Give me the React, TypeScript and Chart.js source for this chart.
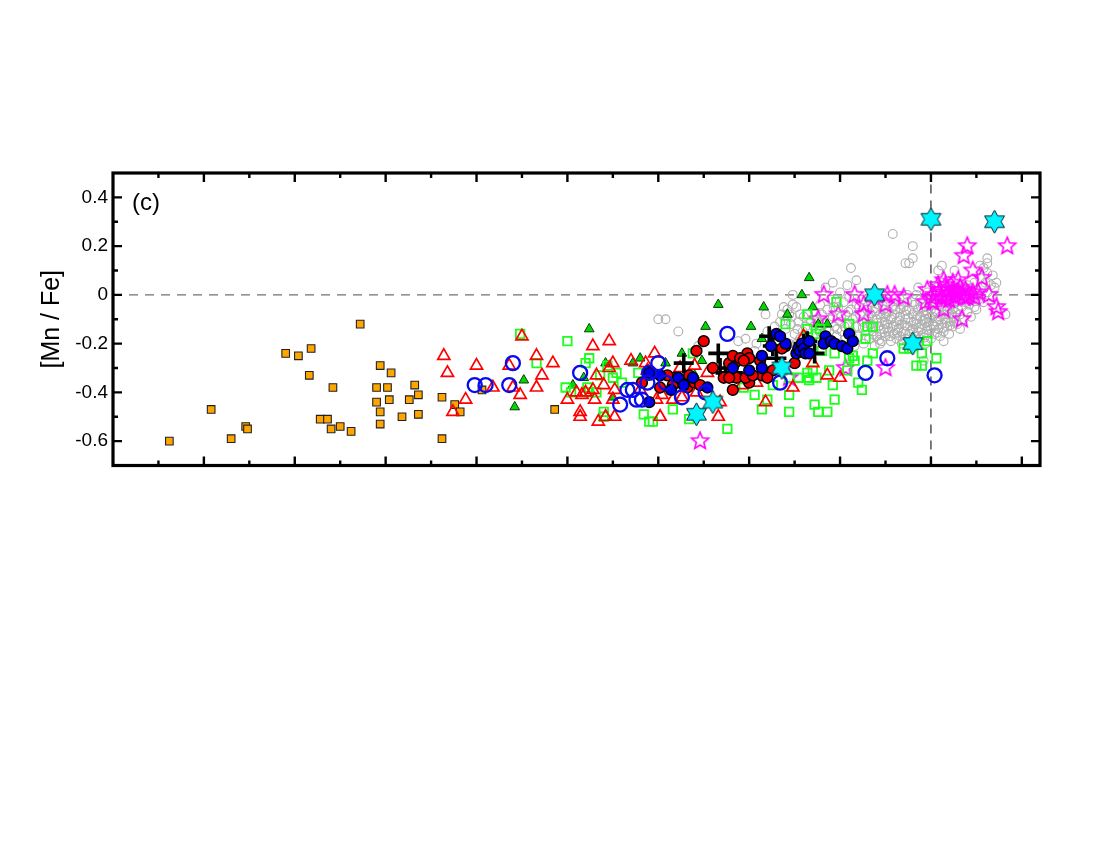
import React, { useEffect, useRef } from "react";
import { Chart, registerables } from "chart.js";

Chart.register(...registerables);

type P = [number, number];

const xMajorTicks = [-4, -3.5, -3, -2.5, -2, -1.5, -1, -0.5, 0, 0.5];
const xMinorTicks = [-4.25, -3.75, -3.25, -2.75, -2.25, -1.75, -1.25, -0.75, -0.25, 0.25];
const yMajorTicks = [-0.6, -0.4, -0.2, 0, 0.2, 0.4];
const yMinorTicks = [-0.5, -0.3, -0.1, 0.1, 0.3];
const yTickLabels: Record<string, string> = { "-0.6": "-0.6", "-0.4": "-0.4", "-0.2": "-0.2", "0": "0", "0.2": "0.2", "0.4": "0.4" };
const yTitle = "[Mn / Fe]";
const panelLabel = "(c)";

const haloStars: P[] = [
  [-4.19, -0.6], [-3.96, -0.47], [-3.85, -0.59], [-3.77, -0.54], [-3.76, -0.55], [-3.55, -0.24], [-3.48, -0.25],
  [-3.41, -0.22], [-3.42, -0.33], [-3.29, -0.38], [-3.36, -0.51], [-3.32, -0.51], [-3.3, -0.55], [-3.25, -0.54],
  [-3.19, -0.56], [-3.14, -0.12], [-3.05, -0.38], [-3.05, -0.44], [-3.03, -0.29], [-2.97, -0.32], [-2.99, -0.38],
  [-2.98, -0.43], [-3.03, -0.48], [-3.03, -0.53], [-2.91, -0.5], [-2.87, -0.43], [-2.84, -0.37], [-2.82, -0.41],
  [-2.82, -0.49], [-2.69, -0.42], [-2.69, -0.59], [-2.62, -0.45], [-2.59, -0.48], [-2.47, -0.39], [-2.07, -0.47],
];

const redTriangles: P[] = [
  [-2.68, -0.25], [-2.66, -0.32], [-2.63, -0.48], [-2.56, -0.43], [-2.5, -0.29], [-2.41, -0.38], [-2.32, -0.29],
  [-2.3, -0.38], [-2.26, -0.41], [-2.25, -0.17], [-2.17, -0.25], [-2.14, -0.33], [-2.17, -0.38], [-2.08, -0.28],
  [-2.0, -0.43], [-1.95, -0.4], [-1.92, -0.41], [-1.9, -0.4], [-1.86, -0.39], [-1.85, -0.43], [-1.86, -0.21],
  [-1.77, -0.19], [-1.77, -0.3], [-1.75, -0.28], [-1.84, -0.33], [-1.8, -0.37], [-1.74, -0.39], [-1.75, -0.43],
  [-1.93, -0.48], [-1.93, -0.5], [-1.83, -0.52], [-1.79, -0.5], [-1.74, -0.5], [-1.52, -0.24], [-1.57, -0.28],
  [-1.48, -0.41], [-1.49, -0.5], [-1.56, -0.31], [-1.51, -0.43], [-1.42, -0.43], [-1.37, -0.42], [-1.3, -0.29],
  [-1.23, -0.32], [-1.38, -0.3], [-1.29, -0.4], [-1.17, -0.5], [-1.16, -0.44], [-0.91, -0.44], [-0.76, -0.38],
  [-0.96, -0.36], [-1.04, -0.37], [-0.65, -0.28], [-0.57, -0.33], [-0.5, -0.34], [-0.7, -0.17], [-1.65, -0.27],
  [-1.6, -0.39],
];

const blueOpenCircles: P[] = [
  [-2.51, -0.37], [-2.45, -0.37], [-2.3, -0.28], [-2.32, -0.37], [-1.93, -0.32], [-1.71, -0.45], [-1.67, -0.39],
  [-1.64, -0.39], [-1.62, -0.43], [-1.59, -0.43], [-1.56, -0.36], [-1.55, -0.32], [-1.5, -0.28], [-1.46, -0.36],
  [-1.37, -0.42], [-1.24, -0.4], [-1.12, -0.16], [-0.83, -0.36], [-0.36, -0.32], [-0.24, -0.26], [0.02, -0.33],
];

const blueFilledCircles: P[] = [
  [-1.55, -0.44], [-1.49, -0.33], [-1.43, -0.39], [-1.39, -0.34], [-1.31, -0.34], [-1.36, -0.37], [-1.23, -0.38],
  [-1.55, -0.32], [-0.85, -0.16], [-0.88, -0.21], [-0.8, -0.2], [-0.93, -0.25], [-1.0, -0.31], [-0.93, -0.3],
  [-1.09, -0.3], [-0.83, -0.17], [-0.74, -0.24], [-0.73, -0.22], [-0.72, -0.23], [-0.71, -0.2], [-0.7, -0.22],
  [-0.69, -0.24], [-0.67, -0.19], [-0.67, -0.24], [-0.58, -0.17], [-0.59, -0.2], [-0.55, -0.19], [-0.53, -0.2],
  [-0.49, -0.21], [-0.46, -0.22], [-0.45, -0.16], [-0.43, -0.19],
];

const redFilledCircles: P[] = [
  [-1.25, -0.19], [-1.29, -0.23], [-1.2, -0.3], [-1.09, -0.39], [-1.14, -0.34], [-1.59, -0.36], [-1.49, -0.38],
  [-1.41, -0.34], [-1.34, -0.38], [-1.3, -0.36], [-1.45, -0.33], [-1.01, -0.24], [-1.0, -0.26], [-1.08, -0.28],
  [-1.11, -0.28], [-1.0, -0.36], [-1.07, -0.34], [-1.11, -0.34], [-1.02, -0.34], [-0.94, -0.27], [-0.87, -0.31],
  [-0.93, -0.33], [-0.9, -0.34], [-0.8, -0.21], [-0.82, -0.22], [-0.75, -0.28], [-1.09, -0.25], [-1.05, -0.26],
  [-1.03, -0.27], [-0.98, -0.33], [-1.38, -0.36], [-1.33, -0.33], [-1.42, -0.37], [-1.27, -0.37],
];

const blackPluses: P[] = [
  [-1.36, -0.28], [-1.17, -0.24], [-1.16, -0.3], [-1.13, -0.32], [-1.09, -0.32], [-0.89, -0.17], [-0.85, -0.26],
  [-0.68, -0.19], [-0.7, -0.2], [-0.64, -0.24], [-0.87, -0.21],
];

const greenTriangles: P[] = [
  [-1.88, -0.14], [-2.24, -0.35], [-2.29, -0.46], [-1.64, -0.28], [-1.6, -0.26], [-1.79, -0.28], [-1.91, -0.34],
  [-1.97, -0.37], [-1.75, -0.42], [-1.17, -0.04], [-0.92, -0.05], [-0.71, 0.0], [-0.67, 0.07], [-0.65, -0.05],
  [-0.79, -0.08], [-1.24, -0.13], [-0.99, -0.13], [-1.37, -0.24], [-1.26, -0.27], [-1.46, -0.28], [-0.93, -0.18],
  [-1.3, -0.33], [-0.62, -0.12], [-0.57, -0.12],
];

const greenSquares: P[] = [
  [-2.26, -0.16], [-2.0, -0.19], [-1.88, -0.26], [-1.9, -0.28], [-2.17, -0.28], [-2.01, -0.38], [-1.98, -0.4],
  [-1.89, -0.38], [-1.88, -0.4], [-1.84, -0.4], [-1.82, -0.33], [-1.75, -0.34], [-1.73, -0.32], [-1.7, -0.36],
  [-1.8, -0.48], [-1.8, -0.5], [-1.58, -0.49], [-1.55, -0.52], [-1.61, -0.32], [-1.78, -0.29], [-1.53, -0.52],
  [-1.42, -0.47], [-1.33, -0.51], [-1.12, -0.55], [-1.31, -0.24], [-0.97, -0.41], [-0.93, -0.47], [-0.9, -0.43],
  [-0.78, -0.48], [-0.78, -0.41], [-0.87, -0.37], [-0.73, -0.34], [-0.68, -0.34], [-0.63, -0.34], [-0.65, -0.31],
  [-0.68, -0.32], [-0.64, -0.45], [-0.62, -0.48], [-0.57, -0.48], [-0.53, -0.43], [-0.54, -0.37], [-0.56, -0.31],
  [-0.68, -0.08], [-0.8, -0.12], [-0.68, -0.14], [-0.61, -0.14], [-0.52, -0.03], [-0.53, -0.24], [-0.78, -0.34],
  [-1.03, -0.38], [-0.4, -0.36], [-0.38, -0.39], [-0.46, -0.31], [-0.45, -0.26], [-0.35, -0.27], [-0.32, -0.24],
  [-0.45, -0.12], [-0.35, -0.13], [-0.32, -0.13], [-0.36, -0.18], [-0.43, -0.25], [-0.42, -0.27], [-0.63, -0.16],
  [-0.6, -0.23], [-0.67, -0.35], [-0.02, -0.19], [-0.15, -0.22], [-0.12, -0.22], [-0.05, -0.24], [0.03, -0.26],
  [-0.08, -0.29], [-0.05, -0.29],
];

const magentaStars: P[] = [
  [-0.59, 0.0], [-0.42, 0.0], [-0.37, -0.04], [-0.51, -0.08], [-0.37, -0.08], [-0.62, -0.1], [-0.25, -0.04],
  [-0.24, 0.0], [-0.2, 0.0], [-0.15, -0.01], [0.2, 0.2], [0.18, 0.16], [0.42, 0.2], [0.23, 0.1], [0.28, 0.07],
  [0.32, 0.0], [0.36, -0.05], [0.37, -0.07], [0.17, -0.1], [0.07, -0.06], [0.07, 0.06], [0.15, 0.06],
  [-0.02, 0.02], [-0.03, -0.03], [0.01, -0.03], [-0.25, -0.3], [-1.27, -0.6], [-0.47, -0.3], [-0.78, -0.34],
  [0.02, 0.0], [0.05, 0.02], [0.08, 0.04], [0.09, 0.0], [0.12, 0.02], [0.13, -0.01], [0.15, 0.01], [0.17, 0.0],
  [0.19, 0.02], [0.21, 0.0], [0.23, 0.01], [0.06, -0.01], [0.1, -0.02], [0.04, 0.04], [0.08, -0.01], [0.16, 0.03],
  [0.12, 0.05], [0.2, -0.01], [0.26, 0.01], [0.0, -0.01], [0.09, 0.02], [0.14, 0.01], [0.18, -0.01], [0.11, 0.0],
  [0.24, -0.01],
];

const cyanStars: P[] = [
  [0.0, 0.31], [0.35, 0.3], [-0.31, 0.0], [-0.1, -0.2], [-0.82, -0.3], [-1.29, -0.49], [-1.2, -0.44],
];

const grayIsolated: P[] = [
  [-0.21, 0.25], [-0.1, 0.2], [-0.1, 0.15], [-0.14, 0.13], [-0.12, 0.13], [-0.44, 0.11], [-0.41, 0.06], [-0.54, 0.05],
  [-0.5, 0.01], [-0.46, 0.04], [-0.58, 0.03], [-0.76, 0.0], [-0.81, -0.05], [-0.76, -0.04], [-0.74, -0.05],
  [-0.79, -0.06], [-0.78, -0.08], [-0.72, -0.08], [0.06, 0.12], [0.04, 0.1], [0.13, 0.1], [0.27, 0.12], [0.31, 0.15],
  [0.31, 0.13], [0.29, 0.11], [0.34, 0.08], [0.31, 0.09], [0.36, 0.05], [0.35, 0.03], [0.41, -0.08], [0.25, -0.06],
  [0.16, -0.14], [0.07, -0.19], [-0.04, -0.27], [-0.28, -0.2], [-0.07, 0.03], [-1.5, -0.1], [-1.46, -0.1],
  [-1.39, -0.15], [-1.06, -0.19], [-1.02, -0.18], [-0.97, -0.23], [-0.91, -0.08], [-1.28, -0.21], [-1.3, -0.23],
];

const grayCloud: P[] = [
  [-0.83, -0.11], [-0.8, -0.14], [-0.77, -0.12], [-0.75, -0.16], [-0.73, -0.11], [-0.7, -0.09], [-0.69, -0.13],
  [-0.72, -0.18], [-0.66, -0.11], [-0.64, -0.07], [-0.63, -0.1], [-0.61, -0.04], [-0.6, -0.08], [-0.59, -0.12],
  [-0.57, -0.06], [-0.56, -0.15], [-0.55, -0.02], [-0.54, -0.09], [-0.53, -0.13], [-0.52, -0.17], [-0.51, -0.05],
  [-0.5, -0.11], [-0.49, -0.15], [-0.48, -0.03], [-0.47, -0.08], [-0.47, -0.18], [-0.46, -0.12], [-0.45, -0.01],
  [-0.44, -0.06], [-0.44, -0.15], [-0.43, -0.1], [-0.42, -0.21], [-0.41, -0.04], [-0.41, -0.13], [-0.4, -0.17],
  [-0.39, -0.08], [-0.38, -0.02], [-0.38, -0.11], [-0.37, -0.2], [-0.36, -0.15], [-0.35, -0.06], [-0.34, -0.09],
  [-0.34, -0.18], [-0.33, -0.03], [-0.33, -0.12], [-0.32, -0.15], [-0.31, -0.07], [-0.31, -0.21], [-0.3, -0.1],
  [-0.3, -0.17], [-0.29, -0.13], [-0.29, -0.04], [-0.28, -0.08], [-0.28, -0.16], [-0.27, -0.11], [-0.27, -0.19],
  [-0.26, -0.06], [-0.26, -0.14], [-0.25, -0.09], [-0.25, -0.17], [-0.24, -0.12], [-0.24, -0.03], [-0.23, -0.15],
  [-0.23, -0.07], [-0.22, -0.1], [-0.22, -0.19], [-0.21, -0.13], [-0.21, -0.05], [-0.2, -0.16], [-0.2, -0.08],
  [-0.19, -0.11], [-0.19, -0.18], [-0.18, -0.03], [-0.18, -0.14], [-0.17, -0.06], [-0.17, -0.09], [-0.17, -0.17],
  [-0.16, -0.12], [-0.16, -0.2], [-0.15, -0.05], [-0.15, -0.15], [-0.14, -0.08], [-0.14, -0.1], [-0.14, -0.18],
  [-0.13, -0.13], [-0.13, -0.03], [-0.12, -0.06], [-0.12, -0.16], [-0.11, -0.11], [-0.11, -0.19], [-0.1, -0.08],
  [-0.1, -0.14], [-0.09, -0.04], [-0.09, -0.17], [-0.08, -0.1], [-0.08, -0.12], [-0.08, -0.21], [-0.07, -0.06],
  [-0.07, -0.15], [-0.06, -0.09], [-0.06, -0.18], [-0.06, -0.02], [-0.05, -0.12], [-0.05, -0.14], [-0.04, -0.07],
  [-0.04, -0.16], [-0.03, -0.1], [-0.03, -0.2], [-0.03, -0.05], [-0.02, -0.13], [-0.02, -0.08], [-0.01, -0.16],
  [-0.01, -0.11], [-0.01, -0.02], [0.0, -0.06], [0.0, -0.14], [0.0, -0.18], [0.01, -0.09], [0.01, -0.12],
  [0.02, -0.04], [0.02, -0.16], [0.03, -0.07], [0.03, -0.11], [0.04, -0.14], [0.04, -0.02], [0.05, -0.09],
  [0.05, -0.17], [0.06, -0.05], [0.06, -0.12], [0.07, -0.08], [0.07, -0.15], [0.08, -0.03], [0.08, -0.1],
  [0.09, -0.06], [0.09, -0.13], [0.1, -0.01], [0.1, -0.08], [0.1, -0.16], [0.11, -0.04], [0.11, -0.11],
  [0.12, -0.06], [0.12, -0.13], [0.13, 0.01], [0.13, -0.09], [0.14, -0.03], [0.14, -0.11], [0.15, -0.06],
  [0.15, 0.03], [0.16, -0.08], [0.17, -0.02], [0.17, -0.05], [0.18, 0.02], [0.18, -0.1], [0.19, -0.03],
  [0.2, -0.07], [0.2, 0.04], [0.21, -0.04], [0.22, 0.01], [0.22, -0.09], [0.23, -0.02], [0.24, 0.05],
  [0.24, -0.05], [0.25, 0.02], [0.26, -0.02], [0.27, 0.07], [0.28, 0.03], [0.29, -0.03], [0.3, 0.05], [0.31, 0.01],
  [0.33, 0.04], [0.34, -0.01], [-0.08, 0.0], [-0.13, 0.0], [-0.02, 0.01], [0.03, 0.03], [0.06, 0.05],
  [-0.61, -0.15], [-0.65, -0.17], [-0.58, -0.18], [-0.54, -0.19], [-0.5, -0.2], [-0.78, -0.2], [-0.74, -0.2],
  [-0.84, -0.17], [-0.9, -0.15], [-0.86, -0.13], [-0.82, -0.08], [-0.96, -0.2],
];

const grayCloudDense: P[] = [
  [-0.335, -0.075], [-0.325, -0.135], [-0.315, -0.165], [-0.305, -0.055], [-0.295, -0.115], [-0.285, -0.185],
  [-0.275, -0.095], [-0.265, -0.045], [-0.255, -0.155], [-0.245, -0.075], [-0.235, -0.135], [-0.225, -0.17],
  [-0.215, -0.09], [-0.205, -0.125], [-0.195, -0.06], [-0.185, -0.155], [-0.175, -0.105], [-0.165, -0.04],
  [-0.155, -0.185], [-0.145, -0.125], [-0.135, -0.065], [-0.125, -0.095], [-0.115, -0.15], [-0.105, -0.03],
  [-0.095, -0.11], [-0.085, -0.195], [-0.075, -0.085], [-0.065, -0.135], [-0.055, -0.05], [-0.045, -0.105],
  [-0.035, -0.175], [-0.025, -0.065], [-0.015, -0.145], [-0.005, -0.09], [0.005, -0.035], [0.015, -0.13],
  [0.025, -0.075], [0.035, -0.155], [0.045, -0.1], [0.055, -0.04], [0.065, -0.135], [0.075, -0.065],
  [0.085, -0.115], [0.095, -0.025], [0.105, -0.125], [0.115, -0.08], [0.125, -0.03], [0.135, -0.07],
  [0.145, -0.12], [-0.355, -0.1], [-0.375, -0.135], [-0.395, -0.05], [-0.415, -0.09], [-0.435, -0.17],
  [-0.455, -0.07], [-0.475, -0.13], [-0.495, -0.09], [-0.515, -0.14], [-0.535, -0.05], [-0.555, -0.1],
  [-0.575, -0.14], [-0.595, -0.16], [-0.615, -0.11], [-0.645, -0.13], [-0.675, -0.08], [-0.705, -0.15],
  [-0.735, -0.14], [-0.765, -0.09], [-0.255, -0.115], [-0.175, -0.135], [-0.095, -0.155], [-0.025, -0.115],
];

const grayDwarfs: P[] = [...grayIsolated, ...grayCloud, ...grayCloudDense];

const zeroLine: P[] = [[-4.5, 0], [0.6, 0]];
const solarLine: P[] = [[0, -0.7], [0, 0.5]];

const toXY = (pts: P[]) => pts.map(([x, y]) => ({ x, y }));

function starSprite(arms: number, outer: number, inner: number, fill: string | null, stroke: string, lw: number) {
  const c = document.createElement("canvas");
  const size = Math.ceil(outer * 2 + lw * 6);
  c.width = size;
  c.height = size;
  const g = c.getContext("2d")!;
  g.translate(size / 2, size / 2);
  g.beginPath();
  for (let i = 0; i < arms * 2; i++) {
    const r = i % 2 === 0 ? outer : inner;
    const a = -Math.PI / 2 + (i * Math.PI) / arms;
    const px = r * Math.cos(a);
    const py = r * Math.sin(a);
    if (i === 0) g.moveTo(px, py);
    else g.lineTo(px, py);
  }
  g.closePath();
  if (fill) {
    g.fillStyle = fill;
    g.fill();
  }
  g.strokeStyle = stroke;
  g.lineWidth = lw;
  g.lineJoin = "miter";
  g.stroke();
  return c;
}

const framePlugin = {
  id: "frame",
  afterDatasetsDraw(chart: any) {
    const { ctx, chartArea: a, scales } = chart;
    const x = scales.x;
    const y = scales.y;
    ctx.save();
    ctx.strokeStyle = "#000";
    ctx.lineWidth = 2.4;
    const major = 9;
    const minor = 5;
    const vTick = (v: number, len: number) => {
      const p = x.getPixelForValue(v);
      ctx.beginPath();
      ctx.moveTo(p, a.top);
      ctx.lineTo(p, a.top + len);
      ctx.moveTo(p, a.bottom);
      ctx.lineTo(p, a.bottom - len);
      ctx.stroke();
    };
    const hTick = (v: number, len: number) => {
      const p = y.getPixelForValue(v);
      ctx.beginPath();
      ctx.moveTo(a.left, p);
      ctx.lineTo(a.left + len, p);
      ctx.moveTo(a.right, p);
      ctx.lineTo(a.right - len, p);
      ctx.stroke();
    };
    xMajorTicks.forEach((v) => vTick(v, major));
    xMinorTicks.forEach((v) => vTick(v, minor));
    yMajorTicks.forEach((v) => hTick(v, major));
    yMinorTicks.forEach((v) => hTick(v, minor));
    ctx.lineWidth = 3.2;
    ctx.strokeRect(a.left, a.top, a.right - a.left, a.bottom - a.top);
    ctx.fillStyle = "#000";
    ctx.font = '24px "Liberation Sans"';
    ctx.textAlign = "left";
    ctx.textBaseline = "middle";
    ctx.fillText(panelLabel, a.left + 19, a.top + 30);
    ctx.restore();
  },
};

export default function App() {
  const ref = useRef<HTMLCanvasElement>(null);
  useEffect(() => {
    const open5 = starSprite(5, 9, 4, null, "#ff00ff", 1.6);
    const cyan6 = starSprite(6, 11.5, 6.6, "#00f5ff", "#0a2028", 1);
    const scat = (data: P[], o: any) => ({ data: toXY(data), showLine: false, ...o });
    const chart = new Chart(ref.current!, {
      type: "scatter",
      plugins: [framePlugin],
      data: {
        datasets: [
          scat(cyanStars, { pointStyle: cyan6, pointRadius: 10 }),
          scat(blueOpenCircles, { pointStyle: "circle", pointRadius: 7, pointBorderWidth: 2.3, pointBorderColor: "#0a0aee", pointBackgroundColor: "transparent" }),
          scat(blueFilledCircles, { pointStyle: "circle", pointRadius: 5.4, pointBorderWidth: 1.5, pointBorderColor: "#000", pointBackgroundColor: "#0000e6" }),
          scat(redFilledCircles, { pointStyle: "circle", pointRadius: 5.4, pointBorderWidth: 1.5, pointBorderColor: "#000", pointBackgroundColor: "#f00000" }),
          scat(blackPluses, { pointStyle: "cross", pointRadius: 10, pointBorderWidth: 3.6, pointBorderColor: "#000" }),
          scat(redTriangles, { pointStyle: "triangle", pointRadius: 7, pointBorderWidth: 1.7, pointBorderColor: "#ff0000", pointBackgroundColor: "transparent" }),
          scat(greenSquares, { pointStyle: "rect", pointRadius: 6, pointBorderWidth: 1.8, pointBorderColor: "#1cff1c", pointBackgroundColor: "transparent" }),
          scat(greenTriangles, { pointStyle: "triangle", pointRadius: 5.6, pointBorderWidth: 1, pointBorderColor: "#0a3a0a", pointBackgroundColor: "#00d800" }),
          scat(haloStars, { pointStyle: "rect", pointRadius: 5.4, pointBorderWidth: 1.1, pointBorderColor: "#222", pointBackgroundColor: "#ffa500" }),
          scat(magentaStars, { pointStyle: open5, pointRadius: 10 }),
          scat(grayDwarfs, { pointStyle: "circle", pointRadius: 4.4, pointBorderWidth: 1.1, pointBorderColor: "#b0b0b0", pointBackgroundColor: "transparent" }),
          { data: toXY(zeroLine), showLine: true, pointRadius: 0, borderColor: "#707070", borderWidth: 1.3, borderDash: [9, 7] },
          { data: toXY(solarLine), showLine: true, pointRadius: 0, borderColor: "#111", borderWidth: 1.1, borderDash: [9, 7] },
        ],
      } as any,
      options: {
        animation: false,
        responsive: false,
        events: [],
        layout: { padding: { top: 173, right: 60, bottom: 0, left: 0 } },
        plugins: { legend: { display: false }, tooltip: { enabled: false } },
        scales: {
          x: {
            type: "linear",
            min: -4.5,
            max: 0.6,
            grid: { display: false },
            border: { display: false },
            ticks: { display: false },
            afterFit: (s: any) => { s.height = 384.5; },
          },
          y: {
            type: "linear",
            min: -0.7,
            max: 0.5,
            grid: { display: false, drawTicks: false },
            border: { display: false },
            afterBuildTicks: (s: any) => { s.ticks = yMajorTicks.map((value) => ({ value })); },
            ticks: {
              autoSkip: false,
              padding: 5,
              color: "#000",
              font: { family: '"Liberation Sans"', size: 19 },
              callback: (v: any) => yTickLabels[String(v)] ?? "",
            },
            title: {
              display: true,
              text: yTitle,
              color: "#000",
              font: { family: '"Liberation Sans"', size: 25 },
              padding: { top: 37, bottom: 0 },
            },
            afterFit: (s: any) => { s.width = 113; },
          },
        },
      } as any,
    });
    return () => chart.destroy();
  }, []);
  return <canvas ref={ref} width={1100} height={850} style={{ position: "absolute", left: 0, top: 0, display: "block" }} />;
}
